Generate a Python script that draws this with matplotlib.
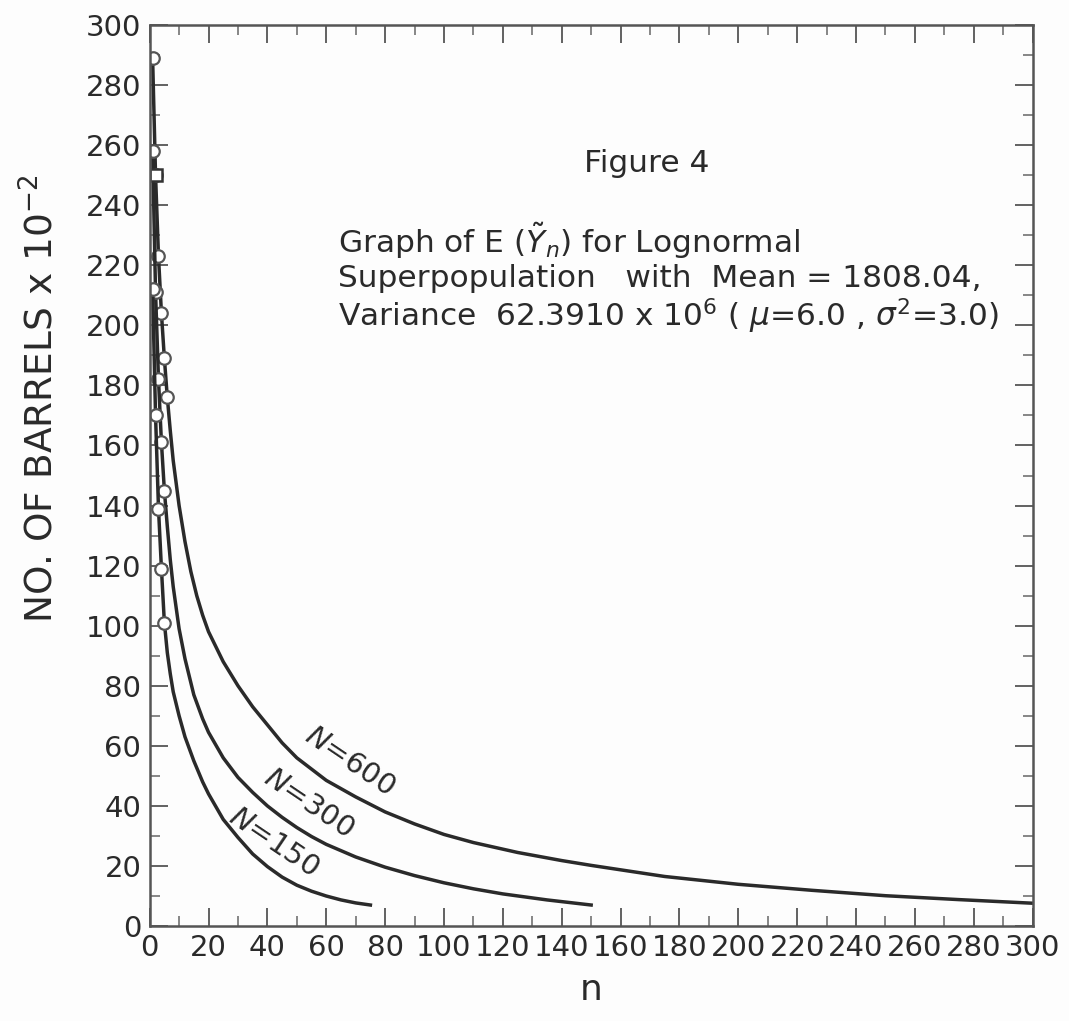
import numpy as np
import matplotlib.pyplot as plt
from matplotlib.ticker import MultipleLocator

# curve values (n, barrels x 10^-2)
n_600 = [1, 2, 3, 4, 5, 6, 7, 8, 10, 12, 14, 16, 18, 20, 25, 30, 35, 40, 45,
         50, 60, 70, 80, 90, 100, 110, 125, 140, 150, 175, 200, 225, 250,
         275, 300]
y_600 = [289, 250, 223, 204, 189, 176, 165, 155, 140, 128, 118, 110, 103.5,
         98, 88, 80, 73, 67, 61, 56, 48.5, 43, 38, 34, 30.5, 27.8, 24.5,
         21.8, 20.2, 16.5, 13.9, 11.9, 10.1, 8.8, 7.6]

n_300 = [1, 2, 3, 4, 5, 6, 7, 8, 10, 12, 15, 18, 20, 25, 30, 35, 40, 45, 50,
         55, 60, 70, 80, 90, 100, 110, 120, 135, 150]
y_300 = [258, 211, 182, 161, 145, 133, 122, 113, 99, 89, 77, 69, 64.5, 56,
         49.5, 44.5, 40, 36.2, 32.8, 29.8, 27.2, 23, 19.6, 16.8, 14.4, 12.4,
         10.7, 8.7, 7]

n_150 = [1, 2, 3, 4, 5, 6, 7, 8, 10, 12, 15, 18, 20, 25, 30, 35, 40, 45, 50,
         55, 60, 65, 70, 75]
y_150 = [212, 170, 139, 119, 101, 91, 84, 78, 70, 63, 55, 48, 44, 35.5, 29.5,
         24, 19.8, 16.3, 13.6, 11.6, 10, 8.7, 7.7, 7]

curve_labels = ["$N$=600", "$N$=300", "$N$=150"]
label_pos = [(68, 55), (54, 41), (42, 28)]
n_markers = [6, 5, 5]

x_ticks = list(range(0, 301, 20))
y_ticks = list(range(0, 301, 20))

plt.rcParams['font.family'] = ['DejaVu Sans']
plt.rcParams['mathtext.fontset'] = 'dejavusans'
ink = '#2a2a2a'

fig = plt.figure(figsize=(10.69, 10.21), dpi=100, facecolor='#fdfdfd')
ax = fig.add_axes([0.140, 0.093, 0.826, 0.8825])
ax.set_facecolor('#fdfdfd')

series = [(n_600, y_600), (n_300, y_300), (n_150, y_150)]
for (nn, yy), lab, pos, nm in zip(series, curve_labels, label_pos, n_markers):
    ax.plot(nn, yy, color=ink, lw=2.5, solid_joinstyle='round')
    ax.plot(nn[:nm], yy[:nm], 'o', ms=9, mfc='white', mec='#555555', mew=1.6)
    ax.text(pos[0], pos[1], lab, rotation=-34, fontsize=21, color=ink,
            ha='center', va='center', rotation_mode='anchor')

# the one square symbol near the top
ax.plot(n_600[1], y_600[1], 's', ms=9, mfc='white', mec='#333333', mew=1.8)

ax.set_xlim(0, 300)
ax.set_ylim(0, 300)
ax.set_xticks(x_ticks)
ax.set_yticks(y_ticks)
ax.xaxis.set_minor_locator(MultipleLocator(10))
ax.yaxis.set_minor_locator(MultipleLocator(10))
ax.tick_params(which='major', direction='in', length=13, width=1.3,
               color='#555555', labelsize=21, labelcolor=ink,
               top=True, right=True, pad=6)
ax.tick_params(which='minor', direction='in', length=7, width=1.1,
               color='#666666', top=True, right=True)
for s in ax.spines.values():
    s.set_linewidth(1.8)
    s.set_color('#555555')

ax.set_xlabel("n", fontsize=26, color=ink, labelpad=8)
ax.text(-0.122, 0.585, r"NO. OF BARRELS x 10$^{-2}$", transform=ax.transAxes,
        rotation=90, fontsize=27, color=ink, ha='center', va='center')

ax.text(169, 254, "Figure 4", fontsize=22.5, color=ink, ha='center',
        va='center')
ax.text(64, 228, r"Graph of E ($\tilde{Y}_n$) for Lognormal", fontsize=22.5,
        color=ink, ha='left', va='center')
ax.text(64, 215.5, "Superpopulation   with  Mean = 1808.04,", fontsize=22.5,
        color=ink, ha='left', va='center')
ax.text(64, 203, r"Variance  62.3910 x 10$^6$ ( $\mu$=6.0 , $\sigma^2$=3.0)",
        fontsize=22.5, color=ink, ha='left', va='center')

fig.savefig("out.png", dpi=100, facecolor=fig.get_facecolor())
